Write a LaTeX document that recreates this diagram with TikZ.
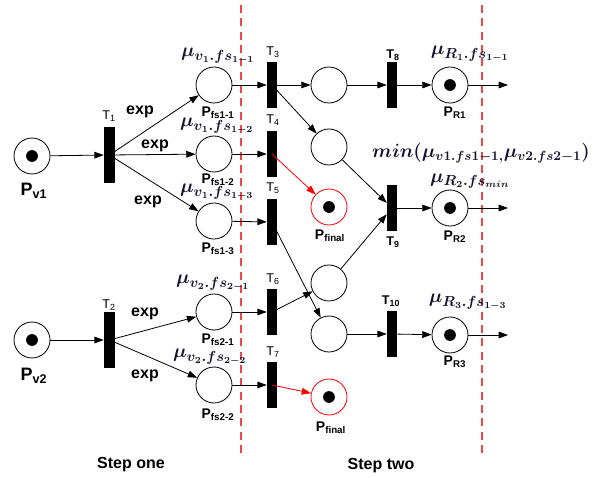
\documentclass[tikz,border=0pt]{standalone}
\usepackage{fontspec}
\setsansfont{Liberation Sans}
\usepackage{amsmath,bm}
\usetikzlibrary{arrows.meta}
\definecolor{mublue}{RGB}{20,20,50}
\definecolor{cutred}{RGB}{240,70,70}

\begin{document}
\begin{tikzpicture}[x=0.75pt, y=-0.75pt, >={Triangle[length=7pt,width=5pt]},
    place/.style={circle, draw, line width=0.6pt, minimum size=27pt, inner sep=0pt},
    token/.style={place, path picture={\fill[black] (path picture bounding box.center) circle (4.4pt);}},
    final/.style={token, draw=red},
    trans/.style={rectangle, fill=black, minimum width=7.5pt, minimum height=34pt, inner sep=0pt},
    ttrans/.style={trans, minimum width=8.2pt, minimum height=42pt},
    arc/.style={->, line width=0.6pt},
    redarc/.style={arc, red},
    tlab/.style={font=\sffamily\fontsize{9.5}{11}\selectfont, inner sep=0pt},
    tblab/.style={tlab, font=\sffamily\bfseries\fontsize{9.5}{11}\selectfont},
    plab/.style={font=\sffamily\bfseries\fontsize{10.5}{12}\selectfont, inner sep=0pt},
    pvlab/.style={font=\sffamily\bfseries\fontsize{13.5}{15}\selectfont, inner sep=0pt},
    elab/.style={font=\sffamily\bfseries\fontsize{12}{14}\selectfont, inner sep=0pt},
    mulab/.style={text=mublue, inner sep=0pt, font=\fontsize{15}{17}\selectfont},
    cut/.style={cutred, line width=1.1pt, dash pattern=on 6pt off 4pt}]

    \useasboundingbox (0,0) rectangle (601,478);

    % 1. Ranh giới hai bước
    \draw[cut] (241,5) -- (241,453);
    \draw[cut] (482,5) -- (482,453);
    \node[elab] (step1) at (131,465) {Step one};
    \node[elab] (step2) at (381,466) {Step two};

    % 2. Các vị trí (place)
    \node[token] (pv1) at (32,156) {};
    \node[token] (pv2) at (32,340) {};
    \node[place] (pfs11) at (214,85) {};
    \node[place] (pfs12) at (214,154) {};
    \node[place] (pfs13) at (214,221) {};
    \node[place] (pfs21) at (214,312) {};
    \node[place] (pfs22) at (214,385) {};
    \node[place] (pa) at (329,85) {};
    \node[place] (pb) at (329,147) {};
    \node[final] (pfin1) at (329,207) {};
    \node[place] (pc) at (329,283) {};
    \node[place] (pd) at (329,334) {};
    \node[final] (pfin2) at (329,397) {};
    \node[token] (pr1) at (450,85) {};
    \node[token] (pr2) at (450,208) {};
    \node[token] (pr3) at (450,335) {};

    % 3. Các chuyển tiếp (transition)
    \node[ttrans] (t1) at (109.5,155) {};
    \node[ttrans] (t2) at (109.5,340) {};
    \node[trans] (t3) at (272,85) {};
    \node[trans] (t4) at (272,154) {};
    \node[trans] (t5) at (272,222) {};
    \node[trans] (t6) at (272,312) {};
    \node[trans] (t7) at (272,385) {};
    \node[trans] (t8) at (392,85) {};
    \node[trans] (t9) at (392,208) {};
    \node[trans] (t10) at (392,334) {};

    % Nhãn chuyển tiếp
    \node[tlab] (lt1) at (109,116) {T\textsubscript{1}};
    \node[tlab] (lt2) at (109,305) {T\textsubscript{2}};
    \node[tlab] (lt3) at (273,52) {T\textsubscript{3}};
    \node[tlab] (lt4) at (273,120) {T\textsubscript{4}};
    \node[tlab] (lt5) at (273,188) {T\textsubscript{5}};
    \node[tlab] (lt6) at (273,279) {T\textsubscript{6}};
    \node[tlab] (lt7) at (273,352) {T\textsubscript{7}};
    \node[tblab] (lt8) at (393,55) {T\textsubscript{8}};
    \node[tblab] (lt9) at (393,242) {T\textsubscript{9}};
    \node[tblab] (lt10) at (391,301) {T\textsubscript{10}};

    % Nhãn vị trí
    \node[pvlab] (lpv1) at (34,191) {P\textsubscript{v1}};
    \node[pvlab] (lpv2) at (34,376) {P\textsubscript{v2}};
    \node[plab] (lfs11) at (218,113) {P\textsubscript{fs1-1}};
    \node[plab] (lfs12) at (218,180) {P\textsubscript{fs1-2}};
    \node[plab] (lfs13) at (218,249) {P\textsubscript{fs1-3}};
    \node[plab] (lfs21) at (218,340) {P\textsubscript{fs2-1}};
    \node[plab] (lfs22) at (218,415) {P\textsubscript{fs2-2}};
    \node[plab] (lfin1) at (330,236) {P\textsubscript{final}};
    \node[plab] (lfin2) at (331,428) {P\textsubscript{final}};
    \node[plab] (lr1) at (455,113) {P\textsubscript{R1}};
    \node[plab] (lr2) at (455,237) {P\textsubscript{R2}};
    \node[plab] (lr3) at (455,362) {P\textsubscript{R3}};

    % Nhãn marking
    \node[mulab] (m11) at (218,56) {$\bm{\mu_{v_1.fs_{1-1}}}$};
    \node[mulab] (m12) at (217,126) {$\bm{\mu_{v_1.fs_{1-2}}}$};
    \node[mulab] (m13) at (217,192) {$\bm{\mu_{v_1.fs_{1-3}}}$};
    \node[mulab] (m21) at (213,283) {$\bm{\mu_{v_2.fs_{2-1}}}$};
    \node[mulab] (m22) at (210,357) {$\bm{\mu_{v_2.fs_{2-2}}}$};
    \node[mulab] (mr1) at (470,54) {$\bm{\mu_{R_1.fs_{1-1}}}$};
    \node[mulab] (mr2) at (470,181) {$\bm{\mu_{R_2.fs_{min}}}$};
    \node[mulab] (mr3) at (468,302) {$\bm{\mu_{R_3.fs_{1-3}}}$};
    \node[mulab, font=\Large] (mmin) at (481,153) {$\bm{min(\mu_{v1.fs1-1,}\mu_{v2.fs2-1})}$};

    % 4. Cung bước một
    \draw[arc] (pv1) -- (t1);
    \draw[arc] (pv2) -- (t2);
    \draw[arc] (t1.center) -- (pfs11);
    \draw[arc] (t1.center) -- (pfs12);
    \draw[arc] (t1.center) -- (pfs13);
    \draw[arc] (t2.center) -- (pfs21);
    \draw[arc] (t2.center) -- (pfs22);
    \node[elab] (e1) at (140,112) {exp};
    \node[elab] (e2) at (155,146) {exp};
    \node[elab] (e3) at (148,202) {exp};
    \node[elab] (e4) at (145,314) {exp};
    \node[elab] (e5) at (145,376) {exp};

    % 5. Cung bước hai
    \draw[arc] (pfs11) -- (t3);
    \draw[arc] (pfs12) -- (t4);
    \draw[arc] (pfs13) -- (t5);
    \draw[arc] (pfs21) -- (t6);
    \draw[arc] (pfs22) -- (t7);
    \draw[arc] (t3) -- (pa);
    \draw[arc] (t3.center) -- (pb);
    \draw[redarc] (t4.center) -- (pfin1);
    \draw[arc] (t5.center) -- (pd);
    \draw[arc] (t6.center) -- (pc);
    \draw[redarc] (t7.center) -- (pfin2);
    \draw[arc] (pa) -- (t8);
    \draw[arc] (pb) -- (t9);
    \draw[arc] (pc) -- (t9);
    \draw[arc] (pd) -- (t10);
    \draw[arc] (t8) -- (pr1);
    \draw[arc] (t9) -- (pr2);
    \draw[arc] (t10) -- (pr3);

    % Đầu ra
    \coordinate (o1) at (508,85);
    \coordinate (o2) at (508,208);
    \coordinate (o3) at (508,335);
    \draw[arc] (pr1) -- (o1);
    \draw[arc] (pr2) -- (o2);
    \draw[arc] (pr3) -- (o3);

\end{tikzpicture}
\end{document}
